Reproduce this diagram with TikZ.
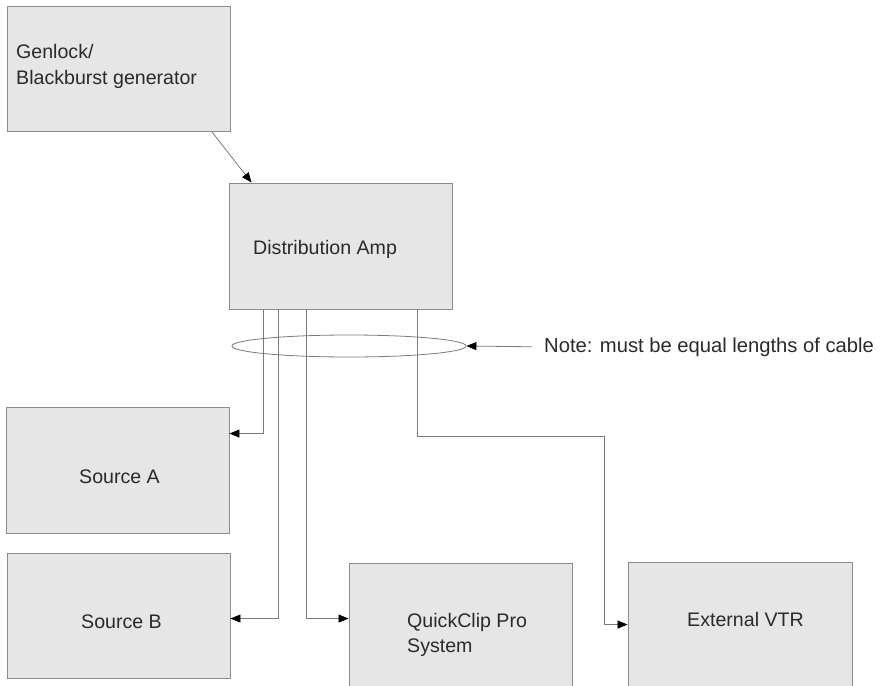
\documentclass[tikz,border=0pt]{standalone}
\usepackage{fontspec}
\setmainfont{Liberation Sans}
\usetikzlibrary{arrows.meta,calc,shapes.geometric}
\definecolor{boxfill}{HTML}{E6E6E6}
\definecolor{boxline}{HTML}{8C8C8C}
\definecolor{wire}{HTML}{7A7A7A}
\definecolor{txt}{HTML}{2A2A2A}
\begin{document}
\begin{tikzpicture}[x=1pt,y=-1pt,
  box/.style={draw=boxline,fill=boxfill,line width=0.9pt,minimum width=223pt,minimum height=125pt,inner sep=0pt},
  lbl/.style={anchor=base west,inner sep=0pt,text=txt,font=\fontsize{19.6}{25}\selectfont},
  conn/.style={draw=wire,line width=0.8pt,-{Triangle[length=10pt,width=8pt,color=black]}}]
\useasboundingbox (0,0) rectangle (885,685);
% boxes
\node[box] (gen) at (118.5,68.5) {};
\node[box,minimum height=126pt] (da) at (340.5,246) {};
\node[box,minimum height=126pt] (srcA) at (117.5,470) {};
\node[box] (srcB) at (118.5,615.5) {};
\node[box,minimum height=126pt] (qc) at (460.5,626) {};
\node[box,minimum width=224pt,minimum height=126pt] (vtr) at (740,625) {};
% labels
\node[lbl] (genT1) at (16,59) {Genlock/};
\node[lbl] (genT2) at (16,84) {Blackburst generator};
\node[lbl] (daT) at (253,254) {Distribution Amp};
\node[lbl] (srcAT) at (79,483) {Source A};
\node[lbl] (srcBT) at (81,628) {Source B};
\node[lbl] (qcT1) at (407,627) {QuickClip Pro};
\node[lbl] (qcT2) at (407,652) {System};
\node[lbl] (vtrT) at (687,626) {External VTR};
\node[lbl,font=\fontsize{20.2}{25}\selectfont] (note) at (544,352) {Note: must be equal lengths of cable};
% ellipse
\node[draw=wire,line width=0.8pt,ellipse,minimum width=234pt,minimum height=22pt,inner sep=0pt] (ell) at (349,346) {};
% connectors
\draw[conn] ($(gen.south west)+(205,0)$) -- ($(da.north west)+(23,0)$);
\draw[conn] ($(da.south west)+(35,0)$) |- ($(srcA.north east)+(0,27)$);
\draw[conn] ($(da.south west)+(50,0)$) |- ($(srcB.north east)+(0,66)$);
\draw[conn] ($(da.south west)+(78,0)$) |- ($(qc.north west)+(0,56)$);
\coordinate (bend) at (604,436);
\draw[conn] ($(da.south west)+(189,0)$) |- (bend) |- ($(vtr.north west)+(0,63)$);
\draw[conn] ($(note.west)+(-12,0)$) -- (ell.east);
\end{tikzpicture}
\end{document}
